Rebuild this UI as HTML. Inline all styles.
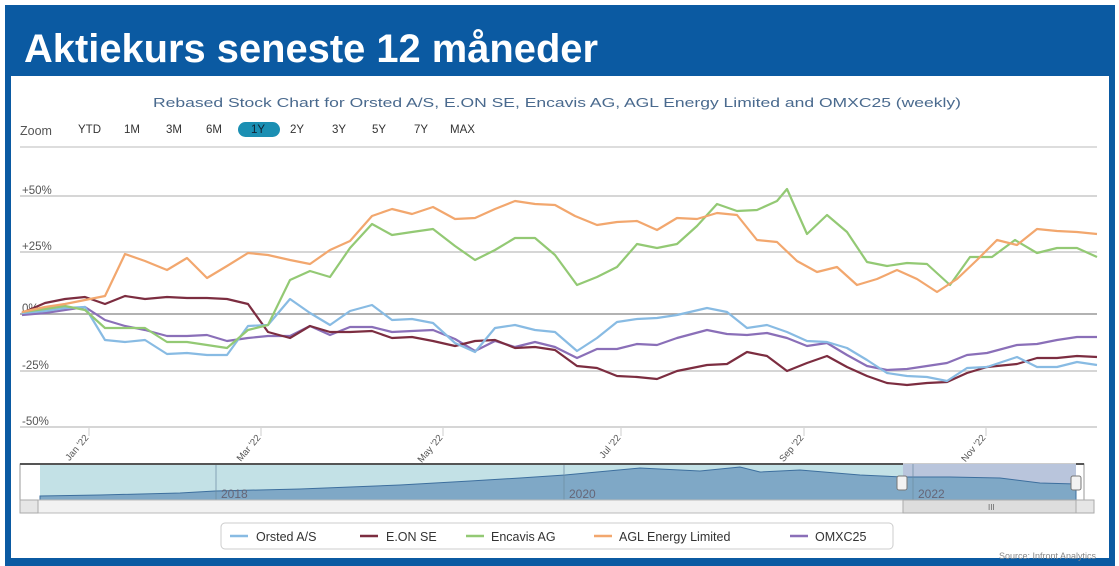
<!DOCTYPE html>
<html><head><meta charset="utf-8"><style>
html,body{margin:0;padding:0;background:#fff;}
svg{display:block;font-family:"Liberation Sans",sans-serif;}
</style></head><body>
<svg width="1119" height="566" viewBox="0 0 1119 566" xmlns="http://www.w3.org/2000/svg">
<rect x="0" y="0" width="1119" height="566" fill="#fff"/>
<rect x="5" y="5" width="1110" height="561" fill="#0b5aa2"/>
<rect x="11" y="76" width="1098" height="482" fill="#fff"/>
<text x="24" y="62" fill="#fff" font-size="40" font-weight="bold" textLength="574" lengthAdjust="spacingAndGlyphs">Aktiekurs seneste 12 måneder</text>
<text x="557" y="107" fill="#4a6a8e" font-size="12.5" text-anchor="middle" textLength="808" lengthAdjust="spacingAndGlyphs">Rebased Stock Chart for Orsted A/S, E.ON SE, Encavis AG, AGL Energy Limited and OMXC25 (weekly)</text>
<g font-size="11.5" fill="#333">
<text x="20" y="135" fill="#555" font-size="12.5">Zoom</text>
<text x="78" y="133">YTD</text><text x="124" y="133">1M</text><text x="166" y="133">3M</text><text x="206" y="133">6M</text>
<rect x="238" y="122" width="42" height="15" rx="7.5" fill="#1b8fb3"/>
<text x="251" y="133" fill="#123">1Y</text>
<text x="290" y="133">2Y</text><text x="332" y="133">3Y</text><text x="372" y="133">5Y</text><text x="414" y="133">7Y</text><text x="450" y="133">MAX</text>
</g>
<line x1="20" y1="147" x2="1097" y2="147" stroke="#bbb"/>
<g stroke="#c8c8c8" stroke-width="1.5">
<line x1="20" y1="196" x2="1097" y2="196"/><line x1="20" y1="252" x2="1097" y2="252"/>
<line x1="20" y1="314" x2="1097" y2="314" stroke="#999"/><line x1="20" y1="371" x2="1097" y2="371"/><line x1="20" y1="427" x2="1097" y2="427"/>
</g>
<g font-size="11.5" fill="#555">
<text x="22" y="194">+50%</text><text x="22" y="250">+25%</text><text x="22" y="312">0%</text><text x="22" y="369">-25%</text><text x="22" y="425">-50%</text>
</g>
<g stroke="#ccc"><line x1="89" y1="428" x2="89" y2="436"/><line x1="261" y1="428" x2="261" y2="436"/><line x1="443" y1="428" x2="443" y2="436"/><line x1="621" y1="428" x2="621" y2="436"/><line x1="804" y1="428" x2="804" y2="436"/><line x1="986" y1="428" x2="986" y2="436"/></g>
<g font-size="9.5" fill="#555" text-anchor="end">
<text transform="translate(89,438) rotate(-50)">Jan '22</text>
<text transform="translate(261,438) rotate(-50)">Mar '22</text>
<text transform="translate(443,438) rotate(-50)">May '22</text>
<text transform="translate(621,438) rotate(-50)">Jul '22</text>
<text transform="translate(804,438) rotate(-50)">Sep '22</text>
<text transform="translate(986,438) rotate(-50)">Nov '22</text>
</g>
<g fill="none" stroke-width="2.2" stroke-linejoin="round">
<polyline stroke="#8a6fb8" points="22,315 45,313 65,310 85,307 105,320 125,326 145,330 167,336 187,336 207,335 227,341 248,338 268,336 290,336 310,326 330,335 350,327 372,327 392,332 412,331 433,330 455,339 475,351 495,341 515,347 535,342 555,347 577,358 597,349 617,349 637,344 657,345 677,338 707,330 727,334 747,335 767,333 787,338 807,346 827,343 847,355 867,366 887,370 907,369 927,366 947,363 967,355 987,353 1017,345 1037,344 1057,340 1077,337 1097,337"/>
<polyline stroke="#7c2d40" points="22,313 45,303 65,299 85,297 105,304 125,296 145,299 167,297 187,298 207,298 227,299 248,304 268,332 290,338 310,326 330,332 350,332 372,331 392,338 412,337 433,341 455,346 475,341 495,340 515,348 535,347 555,350 577,366 597,368 617,376 637,377 657,379 677,371 707,365 727,364 747,352 767,356 787,371 807,363 827,356 847,367 867,376 887,383 907,385 927,383 947,382 967,373 987,367 1017,364 1037,358 1057,358 1077,356 1097,357"/>
<polyline stroke="#88bbe3" points="22,313 45,311 65,308 85,307 105,340 125,342 145,340 167,354 187,353 207,355 227,355 248,326 268,325 290,299 310,313 330,325 350,311 372,305 392,320 412,319 433,323 455,343 475,352 495,328 515,325 535,330 555,332 577,351 597,338 617,322 637,319 657,318 677,315 707,308 727,312 747,328 767,325 787,332 807,341 827,342 847,348 867,360 887,373 907,376 927,377 947,381 967,368 987,367 1017,357 1037,367 1057,367 1077,362 1097,365"/>
<polyline stroke="#93c974" points="22,312 45,309 65,306 85,310 105,328 125,328 145,328 167,342 187,342 207,345 227,348 248,330 268,325 290,280 310,271 330,277 350,248 372,224 392,235 412,232 433,229 455,246 475,260 495,250 515,238 535,238 555,255 577,285 597,277 617,267 637,244 657,248 677,244 697,226 717,204 737,211 757,210 777,201 787,189 807,234 827,215 847,232 867,262 887,266 907,263 927,264 950,285 970,257 992,257 1015,240 1037,253 1057,248 1077,248 1097,257"/>
<polyline stroke="#f2a76e" points="22,312 45,307 65,304 85,300 105,296 125,254 145,261 167,270 187,258 207,278 227,266 248,253 268,255 290,260 310,264 330,250 350,241 372,216 392,209 412,214 433,207 455,219 475,218 495,209 515,201 535,204 555,205 575,216 597,225 617,222 637,221 657,230 677,218 697,219 717,213 737,215 757,240 777,242 797,261 817,272 837,267 857,285 877,279 897,270 917,279 937,292 957,279 977,260 997,240 1017,245 1037,229 1057,231 1077,232 1097,234"/>
</g>
<!-- navigator -->
<rect x="20" y="464" width="1064" height="36" fill="#fff" stroke="#999"/>
<rect x="40" y="464" width="863" height="36" fill="#c3e1e6"/>
<rect x="903" y="464" width="173" height="36" fill="#b9c5dc"/>
<path d="M40,497 L40,496 L100,495 L180,493 L215,491 L300,489 L400,485 L470,481 L520,478 L565,475 L640,468 L700,471 L740,467 L760,472 L800,470 L860,475 L903,477 L950,477 L1000,478 L1040,483 L1076,484 L1076,500 L40,500 Z" fill="#7fa8c6" stroke="#3d6f9e" stroke-width="1"/>
<line x1="216" y1="464" x2="216" y2="500" stroke="#6a8aa0" stroke-width="0.7"/>
<line x1="564" y1="464" x2="564" y2="500" stroke="#6a8aa0" stroke-width="0.7"/>
<line x1="913" y1="464" x2="913" y2="500" stroke="#6a8aa0" stroke-width="0.7"/>
<text x="221" y="498" font-size="12" fill="#667">2018</text>
<text x="569" y="498" font-size="12" fill="#667">2020</text>
<text x="918" y="498" font-size="12" fill="#667">2022</text>
<line x1="20" y1="464" x2="903" y2="464" stroke="#555" stroke-width="2"/>
<line x1="1076" y1="464" x2="1084" y2="464" stroke="#555" stroke-width="2"/>
<rect x="897" y="476" width="10" height="14" rx="2" fill="#f2f2f2" stroke="#777"/>
<rect x="1071" y="476" width="10" height="14" rx="2" fill="#f2f2f2" stroke="#777"/>
<rect x="20" y="500" width="1064" height="13" fill="#f2f2f2" stroke="#bbb"/>
<rect x="20" y="500" width="18" height="13" fill="#e6e6e6" stroke="#aaa"/>
<rect x="1076" y="500" width="18" height="13" fill="#e6e6e6" stroke="#aaa"/>
<rect x="903" y="500" width="173" height="13" fill="#ddd" stroke="#aaa"/>
<text x="988" y="510" font-size="8" fill="#666">III</text>
<!-- legend -->
<rect x="221" y="523" width="672" height="26" rx="4" fill="#fff" stroke="#ccc"/>
<g font-size="12.5" fill="#333">
<line x1="230" y1="536" x2="248" y2="536" stroke="#88bbe3" stroke-width="2.5"/><text x="256" y="541">Orsted A/S</text>
<line x1="360" y1="536" x2="378" y2="536" stroke="#7c2d40" stroke-width="2.5"/><text x="386" y="541">E.ON SE</text>
<line x1="466" y1="536" x2="484" y2="536" stroke="#93c974" stroke-width="2.5"/><text x="491" y="541">Encavis AG</text>
<line x1="594" y1="536" x2="612" y2="536" stroke="#f2a76e" stroke-width="2.5"/><text x="619" y="541">AGL Energy Limited</text>
<line x1="790" y1="536" x2="808" y2="536" stroke="#8a6fb8" stroke-width="2.5"/><text x="815" y="541">OMXC25</text>
</g>
<text x="1096" y="559" font-size="9" fill="#888" text-anchor="end">Source: Infront Analytics</text>
</svg>
</body></html>
